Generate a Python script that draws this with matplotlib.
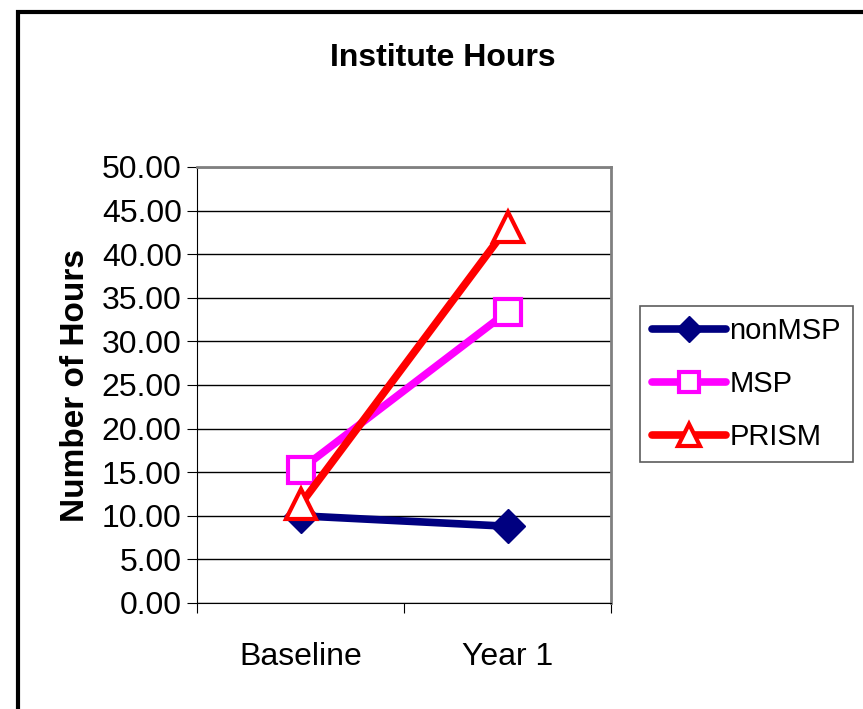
import matplotlib.pyplot as plt
from matplotlib.patches import Rectangle

categories = ["Baseline", "Year 1"]
nonmsp = [10.0, 8.8]
msp = [15.3, 33.4]
prism = [11.3, 43.1]
yticks = [0, 5, 10, 15, 20, 25, 30, 35, 40, 45, 50]

plt.rcParams['font.family'] = ['Liberation Sans', 'DejaVu Sans']

fig = plt.figure(figsize=(8.63, 7.09), dpi=100)
W, H = 863, 709
ax = fig.add_axes([197 / W, 1 - 603 / H, (611 - 197) / W, (603 - 167) / H])

# outer chart border
fig.patches.append(Rectangle((18 / W, -0.1), 1.2, 1 - 12 / H + 0.1, transform=fig.transFigure,
                             fill=False, edgecolor="black", linewidth=3))

x = [0.5, 1.5]
ax.plot(x, nonmsp, color="#000080", lw=5.5, marker="D", ms=17, mfc="#000080", mec="#000080",
        label="nonMSP", solid_capstyle="round")
ax.plot(x, msp, color="#FF00FF", lw=5.5, marker="s", ms=19, mfc="white", mec="#FF00FF", mew=3,
        label="MSP", solid_capstyle="round")
ax.plot(x, prism, color="#FF0000", lw=5.5, marker="^", ms=21, mfc="white", mec="#FF0000", mew=3,
        label="PRISM", solid_capstyle="round")

ax.set_xlim(0, 2)
ax.set_ylim(0, 50)
ax.set_yticks(yticks)
ax.set_yticklabels([f"{v:.2f}" for v in yticks], fontsize=23)
ax.set_xticks([0, 1, 2])
ax.set_xticklabels([])
ax.set_xticks(x, minor=True)
ax.set_xticklabels(categories, minor=True, fontsize=23)
ax.tick_params(axis="x", which="minor", length=0, pad=28)
ax.tick_params(axis="x", which="major", direction="out", length=7, color="black")
ax.tick_params(axis="y", direction="out", length=7, pad=4, color="black")
ax.grid(axis="y", color="black", lw=1)
ax.set_axisbelow(True)
for s in ["top", "right"]:
    ax.spines[s].set_color("gray")
    ax.spines[s].set_linewidth(2)
ax.spines["left"].set_color("black")
ax.spines["bottom"].set_color("black")

ax.set_ylabel("Number of Hours", fontsize=24, fontweight="bold", labelpad=8)
fig.text(443 / W, 1 - 58 / H, "Institute Hours", fontsize=23, fontweight="bold",
         ha="center", va="center")

leg = ax.legend(loc="center left", bbox_to_anchor=(640 / W, 1 - 384 / H), bbox_transform=fig.transFigure,
                fontsize=21, frameon=True, fancybox=False, edgecolor="#333333", handlelength=2.55,
                handletextpad=0.12, borderpad=0.4, labelspacing=0.85, borderaxespad=0,
                markerscale=0.75)
leg.get_frame().set_linewidth(1.2)

fig.savefig("out.png", dpi=100)
